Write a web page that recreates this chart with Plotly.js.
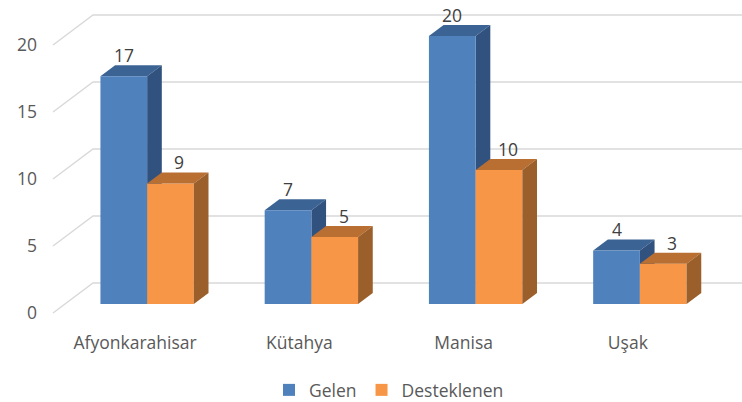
<!DOCTYPE html>
<html>
<head>
<meta charset="utf-8">
<script src="https://cdn.plot.ly/plotly-3.0.1.min.js"></script>
<style>html,body{margin:0;padding:0;background:#fff;}#chart{width:742px;height:402px;}</style>
</head>
<body>
<div id="chart"></div>
<script>
// ---- data ----
const categories = ['Afyonkarahisar', 'Kütahya', 'Manisa', 'Uşak'];
const gelen = [17, 7, 20, 4];
const desteklenen = [9, 5, 10, 3];
const yTicks = [0, 5, 10, 15, 20];
const seriesNames = ['Gelen', 'Desteklenen'];

// ---- styling / pseudo-3D geometry ----
const PX_X = 164.25, PX_Y = 13.4;          // pixels per category / per unit
const DX = 40 / PX_X, DY = 30 / PX_Y;       // full depth offset in data units
const ZF = 0.3, ZB = 0.667;                 // bar front/back depth fraction
const W = 46.7 / PX_X;                      // bar width in category units
const X0 = -0.5 - 1 / PX_X, X1 = X0 + 690 / PX_X;
const Y0 = -13 / PX_Y, Y1 = 313 / PX_Y;
const txt = '#595959';
const FS = 17.5;
const FONT = 'Open Sans, Liberation Sans, sans-serif';
const colors = {
  blue: {front: '#4F81BD', top: '#3B6494', side: '#31527E'},
  orange: {front: '#F79646', top: '#B96E32', side: '#9B5F2B'}
};

const shapesBelow = [], shapesAbove = [];
// back wall / floor gridlines
yTicks.forEach(t => {
  shapesBelow.push({
    type: 'path', xref: 'x', yref: 'y', layer: 'below',
    path: `M ${-0.5},${t} L ${-0.5 + DX},${t + DY} L ${X1},${t + DY}`,
    line: {color: '#D9D9D9', width: 1.5}, fillcolor: 'rgba(0,0,0,0)'
  });
});

function box(xl, xr, v, c, list, layer) {
  const ax = ZF * DX, ay = ZF * DY, bx = ZB * DX, by = ZB * DY;
  list.push({
    type: 'path', xref: 'x', yref: 'y', layer: layer,
    path: `M ${xl + ax},${v + ay} L ${xl + bx},${v + by} L ${xr + bx},${v + by} L ${xr + ax},${v + ay} Z`,
    fillcolor: c.top, line: {width: 0}
  });
  list.push({
    type: 'path', xref: 'x', yref: 'y', layer: layer,
    path: `M ${xr + ax},${ay} L ${xr + bx},${by} L ${xr + bx},${v + by} L ${xr + ax},${v + ay} Z`,
    fillcolor: c.side, line: {width: 0}
  });
}

const xs = categories.map((_, i) => i);
xs.forEach(i => {
  box(i - W, i, gelen[i], colors.blue, shapesBelow, 'below');
  box(i, i + W, desteklenen[i], colors.orange, shapesAbove, 'above');
});

const annotations = [];
xs.forEach(i => {
  annotations.push({x: i + ZF * DX - W / 2, y: gelen[i] + ZF * DY, text: String(gelen[i]),
    showarrow: false, yshift: 21, xanchor: 'center', yanchor: 'middle',
    font: {size: FS, color: '#404040', family: FONT}});
  annotations.push({x: i + ZF * DX + W / 2, y: desteklenen[i] + ZF * DY, text: String(desteklenen[i]),
    showarrow: false, yshift: 21, xshift: 9, xanchor: 'center', yanchor: 'middle',
    font: {size: FS, color: '#404040', family: FONT}});
});

const traces = [
  {type: 'bar', name: seriesNames[0], x: xs.map(i => i + ZF * DX), y: gelen,
   base: ZF * DY, width: W, offset: -W, marker: {color: colors.blue.front, line: {width: 0}},
   hoverinfo: 'skip'},
  {type: 'bar', name: seriesNames[1], x: xs.map(i => i + ZF * DX), y: desteklenen,
   base: ZF * DY, width: W, offset: 0, marker: {color: colors.orange.front, line: {width: 0}},
   hoverinfo: 'skip'}
];

const layout = {
  width: 742, height: 402,
  margin: {l: 52, r: 0, t: 0, b: 76, autoexpand: false},
  paper_bgcolor: '#fff', plot_bgcolor: '#fff',
  barmode: 'overlay',
  font: {family: FONT, color: txt, size: FS},
  xaxis: {range: [X0, X1], tickvals: xs, ticktext: categories, showgrid: false,
          zeroline: false, showline: false, ticks: '', fixedrange: true, ticklabelstandoff: 4,
          automargin: false, tickfont: {size: FS, color: txt}},
  yaxis: {range: [Y0, Y1], tickvals: yTicks, showgrid: false, zeroline: false,
          showline: false, ticks: '', fixedrange: true, ticklabelstandoff: 14,
          automargin: false, tickfont: {size: FS, color: txt}},
  showlegend: true,
  legend: {orientation: 'h', x: (389 - 52) / 690, xanchor: 'center', y: (326 - 390) / 326,
           yanchor: 'middle', font: {size: FS, color: txt}, traceorder: 'normal'},
  shapes: shapesBelow.concat(shapesAbove),
  annotations: annotations
};

Plotly.newPlot('chart', traces, layout, {displayModeBar: false, staticPlot: true});
</script>
</body>
</html>
